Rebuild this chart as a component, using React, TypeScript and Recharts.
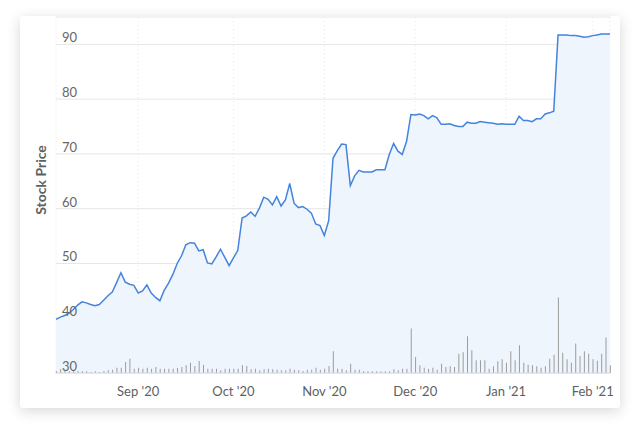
import {
  Area,
  Bar,
  CartesianGrid,
  ComposedChart,
  XAxis,
  YAxis,
} from "recharts";

const FONT = "Lato, 'Open Sans', sans-serif";

// daily close, Aug '20 - Feb '21 (trading days)
const prices = [
  39.8, 40.2, 40.5, 40.9, 41.6, 42.4, 43.0, 42.8, 42.5, 42.3,
  42.5, 43.3, 44.1, 44.8, 46.5, 48.3, 46.6, 46.2, 46.0, 44.6,
  45.0, 46.1, 44.6, 43.8, 43.2, 45.1, 46.4, 48.0, 50.0, 51.4,
  53.4, 53.8, 53.7, 52.3, 52.5, 50.1, 49.9, 51.2, 52.6, 51.1,
  49.6, 51.0, 52.4, 58.3, 58.7, 59.4, 58.6, 60.1, 62.1, 61.7,
  60.7, 62.2, 60.5, 61.6, 64.6, 61.0, 60.2, 60.4, 59.9, 59.2,
  57.2, 56.9, 55.1, 57.8, 69.2, 70.6, 71.8, 71.7, 64.2, 66.0,
  67.0, 66.7, 66.7, 66.7, 67.1, 67.1, 67.1, 69.9, 71.9, 70.5,
  69.9, 72.3, 77.2, 77.1, 77.3, 77.0, 76.4, 77.0, 76.6, 75.4,
  75.4, 75.5, 75.2, 75.0, 75.0, 75.8, 75.6, 75.6, 75.9, 75.8,
  75.7, 75.6, 75.4, 75.5, 75.4, 75.4, 75.4, 76.9, 76.1, 76.1,
  75.9, 76.4, 76.4, 77.3, 77.5, 77.8, 91.7, 91.7, 91.7, 91.6,
  91.6, 91.5, 91.3, 91.4, 91.6, 91.7, 91.9, 91.9, 91.9,
];

// volume, millions
const volumes = [
  0.2, 0.4, 0.3, 0.2, 0.3, 0.2, 0.2, 0.17, 0.1, 0.17,
  0.1, 0.2, 0.27, 0.33, 0.53, 0.53, 1.1, 1.43, 0.43, 0.53,
  0.43, 0.53, 0.43, 0.6, 0.43, 0.43, 0.43, 0.43, 0.5, 0.6,
  0.77, 1.03, 0.7, 1.2, 0.83, 0.43, 0.43, 0.43, 0.27, 0.43,
  0.43, 0.43, 0.43, 0.77, 0.7, 0.37, 0.43, 0.27, 0.37, 0.43,
  0.37, 0.33, 0.27, 0.27, 0.43, 0.33, 0.27, 0.2, 0.33, 0.33,
  0.53, 0.33, 0.43, 0.7, 2.17, 0.43, 0.43, 0.27, 0.93, 0.33,
  0.33, 0.2, 0.17, 0.17, 0.17, 0.17, 0.17, 0.17, 0.37, 0.27,
  0.43, 0.43, 4.43, 1.6, 0.77, 0.53, 0.43, 0.53, 0.33, 0.93,
  0.6, 0.67, 0.6, 1.93, 2.07, 3.67, 2.27, 1.27, 1.27, 1.27,
  0.43, 0.67, 1.17, 1.37, 1.03, 2.17, 1.27, 2.77, 1.03, 0.83,
  0.77, 0.67, 0.53, 0.67, 1.43, 1.83, 7.53, 2.03, 1.37, 1.03,
  2.93, 1.7, 2.17, 1.93, 1.37, 1.23, 1.93, 3.53, 0.77,
];

const monthTicks = [19, 41, 62, 83, 104, 124];
const monthLabels = ["Sep '20", "Oct '20", "Nov '20", "Dec '20", "Jan '21", "Feb '21"];
const priceTicks = [30, 40, 50, 60, 70, 80, 90];

const data = prices.map((price, i) => ({ i, price, volume: volumes[i] }));

function PriceTick({ y, payload }: any) {
  return (
    <text x={42} y={y - 2} fill="#666" fontSize={13} fontFamily={FONT}>
      {payload.value}
    </text>
  );
}

export default function App() {
  return (
    <div style={{ position: "absolute", left: 0, top: 0, width: 640, height: 433, background: "#fff" }}>
      <div
        style={{
          position: "absolute",
          left: 20,
          top: 16,
          width: 600,
          height: 392,
          background: "#fff",
          borderRadius: 3,
          boxShadow: "0 3px 14px rgba(0,0,0,0.16)",
        }}
      >
        <ComposedChart
          width={600}
          height={392}
          data={data}
          margin={{ top: 1, right: 10, bottom: 0, left: 0 }}
        >
          <CartesianGrid yAxisId="price" vertical={false} stroke="#e6e6e6" />
          <CartesianGrid
            yAxisId="price"
            horizontal={false}
            stroke="#e6e6e6"
            strokeDasharray="1 3"
          />
          <XAxis
            dataKey="i"
            type="number"
            domain={[0, 128]}
            ticks={monthTicks}
            tickFormatter={(v: number) => monthLabels[monthTicks.indexOf(v)]}
            height={35}
            stroke="#d3d9e2"
            tickLine={false}
            tickMargin={8}
            tick={{ fill: "#5f5f5f", fontSize: 13, fontFamily: FONT }}
          />
          <YAxis
            yAxisId="price"
            width={36}
            domain={[30, 95]}
            ticks={priceTicks}
            axisLine={false}
            tickLine={false}
            tick={<PriceTick />}
            label={{
              content: () => (
                <text
                  x={26}
                  y={164}
                  transform="rotate(-90, 26, 164)"
                  textAnchor="middle"
                  fill="#606060"
                  fontSize={14}
                  fontWeight={700}
                  fontFamily={FONT}
                >
                  Stock Price
                </text>
              ),
            }}
          />
          <YAxis yAxisId="vol" hide domain={[0, 35.5]} />
          <Area
            yAxisId="price"
            type="linear"
            dataKey="price"
            stroke="#4483de"
            strokeWidth={1.5}
            fill="#eef5fd"
            fillOpacity={1}
            isAnimationActive={false}
          />
          <Bar
            yAxisId="vol"
            dataKey="volume"
            fill="#9c9c9c"
            barSize={1}
            isAnimationActive={false}
          />
        </ComposedChart>
      </div>
    </div>
  );
}
